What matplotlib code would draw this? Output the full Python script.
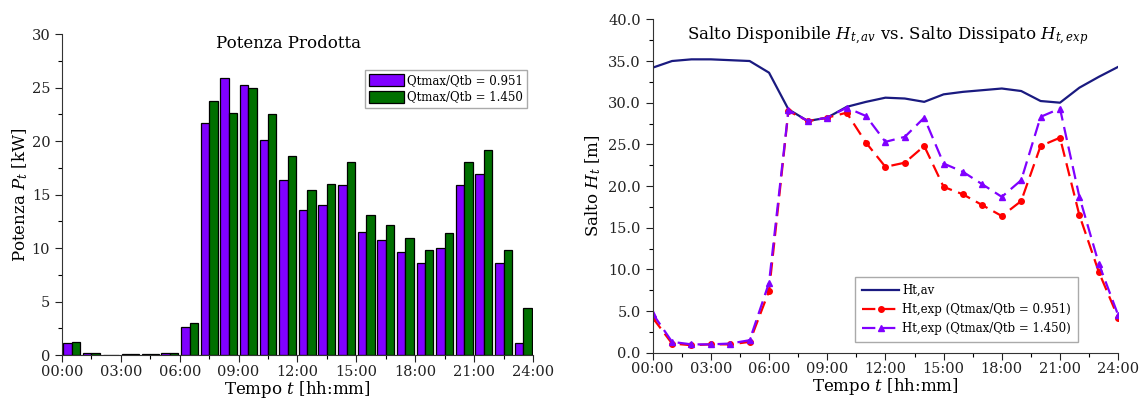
import numpy as np
import matplotlib
matplotlib.use('Agg')
import matplotlib.pyplot as plt
from matplotlib.ticker import MultipleLocator, FuncFormatter

plt.rcParams['font.family'] = 'DejaVu Serif'
plt.rcParams['mathtext.fontset'] = 'dejavuserif'

# hourly power output [kW], bars at each hour 0..23
hours = np.arange(24)
p_0951 = [1.1, 0.2, 0.05, 0.06, 0.1, 0.2, 2.6, 21.7, 25.9, 25.3, 20.1, 16.4,
          13.6, 14.0, 15.9, 11.5, 10.8, 9.6, 8.6, 10.0, 15.9, 16.9, 8.6, 1.1]
p_1450 = [1.25, 0.2, 0.05, 0.06, 0.1, 0.2, 3.0, 23.8, 22.6, 25.0, 22.5, 18.6,
          15.4, 16.0, 18.1, 13.1, 12.2, 10.9, 9.8, 11.4, 18.1, 19.2, 9.8, 4.4]

# heads [m], hourly 0..24
t_h = np.arange(25)
h_av = [34.2, 35.0, 35.2, 35.2, 35.1, 35.0, 33.6, 29.2, 27.8, 28.2, 29.5, 30.1,
        30.6, 30.5, 30.1, 31.0, 31.3, 31.5, 31.7, 31.4, 30.2, 30.0, 31.8, 33.1, 34.3]
h_exp_0951 = [4.2, 1.1, 0.9, 1.0, 1.0, 1.3, 7.4, 29.0, 27.8, 28.2, 28.8, 25.2,
              22.3, 22.8, 24.8, 19.9, 19.0, 17.7, 16.4, 18.2, 24.8, 25.8, 16.5, 9.7, 4.2]
h_exp_1450 = [4.7, 1.3, 1.0, 1.0, 1.1, 1.5, 8.4, 29.1, 27.8, 28.2, 29.4, 28.4,
              25.3, 25.9, 28.2, 22.7, 21.7, 20.2, 18.7, 20.7, 28.3, 29.3, 18.7, 10.7, 4.5]

xtick_labels = ['00:00', '03:00', '06:00', '09:00', '12:00', '15:00', '18:00', '21:00', '24:00']

purple = '#8000ff'
green = '#007000'


def style_axes(ax):
    ax.spines['top'].set_visible(False)
    ax.spines['right'].set_visible(False)
    ax.set_xlim(0, 24)
    ax.set_xticks(np.arange(0, 25, 3))
    ax.set_xticklabels(xtick_labels)
    ax.xaxis.set_minor_locator(MultipleLocator(1.5))
    ax.tick_params(which='major', length=5, width=0.8, labelsize=10.5, colors='#222222')
    ax.tick_params(which='minor', length=3, width=0.8)
    ax.tick_params(axis='x', pad=2)
    for s in ['left', 'bottom']:
        ax.spines[s].set_color('#333333')


fig = plt.figure(figsize=(11.41, 4.03), dpi=100)

# ---- left: power bars ----
ax1 = fig.add_axes([0.0543, 0.119, 0.4128, 0.796])
w = 0.43
ax1.bar(hours + 0.5 - w / 2, p_0951, width=w, color=purple, edgecolor='black', linewidth=0.9,
        label='Qtmax/Qtb = 0.951')
ax1.bar(hours + 0.5 + w / 2, p_1450, width=w, color=green, edgecolor='black', linewidth=0.9,
        label='Qtmax/Qtb = 1.450')
style_axes(ax1)
ax1.set_ylim(0, 30)
ax1.yaxis.set_major_locator(MultipleLocator(5))
ax1.yaxis.set_minor_locator(MultipleLocator(2.5))
ax1.set_xlabel('Tempo $t$ [hh:mm]', fontsize=12, labelpad=0)
ax1.set_ylabel('Potenza $P_t$ [kW]', fontsize=12, labelpad=1)
ax1.text(0.48, 0.998, 'Potenza Prodotta', transform=ax1.transAxes, ha='center', va='top',
         fontsize=12)
leg1 = ax1.legend(loc='upper right', bbox_to_anchor=(0.987, 0.889), borderaxespad=0,
                  fontsize=8.5, fancybox=False, edgecolor='#aaaaaa', handlelength=3.0,
                  handleheight=1.2, borderpad=0.35, labelspacing=0.3, handletextpad=0.2,
                  framealpha=1)

# ---- right: heads ----
ax2 = fig.add_axes([0.572, 0.1248, 0.408, 0.8272])
ax2.plot(t_h, h_av, color='#1a1a80', linewidth=1.6, label='Ht,av')
ax2.plot(t_h, h_exp_0951, color='#ff0000', linewidth=1.6, dashes=(6, 3), marker='o',
         markersize=4, label='Ht,exp (Qtmax/Qtb = 0.951)')
ax2.plot(t_h, h_exp_1450, color=purple, linewidth=1.6, dashes=(6, 3), marker='^',
         markersize=4, label='Ht,exp (Qtmax/Qtb = 1.450)')
style_axes(ax2)
ax2.set_ylim(0, 40)
ax2.yaxis.set_major_locator(MultipleLocator(5))
ax2.yaxis.set_minor_locator(MultipleLocator(2.5))
ax2.yaxis.set_major_formatter(FuncFormatter(lambda v, pos: '%.1f' % v))
ax2.set_xlabel('Tempo $t$ [hh:mm]', fontsize=12, labelpad=0)
ax2.set_ylabel('Salto $H_t$ [m]', fontsize=12, labelpad=4)
ax2.text(0.504, 0.985, 'Salto Disponibile $H_{t,av}$ vs. Salto Dissipato $H_{t,exp}$',
         transform=ax2.transAxes, ha='center', va='top', fontsize=12)
leg2 = ax2.legend(loc='lower right', bbox_to_anchor=(0.913, 0.032), borderaxespad=0,
                  fontsize=8.5, fancybox=False, edgecolor='#aaaaaa', handlelength=3.2,
                  numpoints=1, borderpad=0.6, labelspacing=0.5, handletextpad=0.2,
                  framealpha=1)

fig.savefig('out.png', dpi=100)
